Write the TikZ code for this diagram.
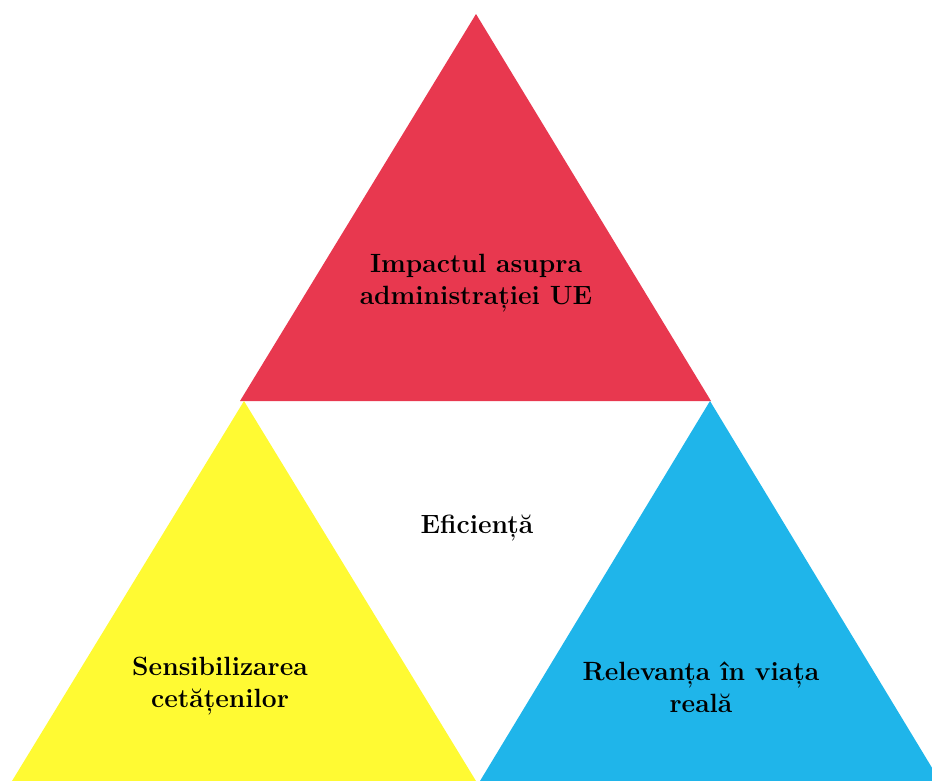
\documentclass[tikz,border=0pt]{standalone}
\usepackage{fontspec}
\definecolor{tred}{HTML}{E8384F}
\definecolor{tyellow}{HTML}{FFFA33}
\definecolor{tblue}{HTML}{1FB5EA}
\begin{document}
\begin{tikzpicture}[x=1pt,y=-1pt,
  lbl/.style={font=\fontsize{26.4}{31.5}\selectfont\bfseries, align=center, text=black}]
\useasboundingbox (0,0) rectangle (932,780);
\clip (0,0) rectangle (932,780);
\coordinate (rA) at (476,14);
\coordinate (rL) at (240,401);
\coordinate (rR) at (711,401);
\coordinate (yA) at (244,401);
\coordinate (yL) at (12,781);
\coordinate (yR) at (476,781);
\coordinate (bA) at (710,401);
\coordinate (bL) at (480,781);
\coordinate (bR) at (940,781);
\fill[tred] (rA) -- (rL) -- (rR) -- cycle;
\fill[tyellow] (yA) -- (yL) -- (yR) -- cycle;
\fill[tblue] (bA) -- (bL) -- (bR) -- cycle;
\node[lbl] (impact) at (476,283) {Impactul asupra\\administrației UE};
\node[lbl] (efic) at (477,528) {Eficiență};
\node[lbl] (sens) at (220,686) {Sensibilizarea\\cetățenilor};
\node[lbl] (relev) at (701,687) {Relevanța în viața\\reală};
\end{tikzpicture}
\end{document}
